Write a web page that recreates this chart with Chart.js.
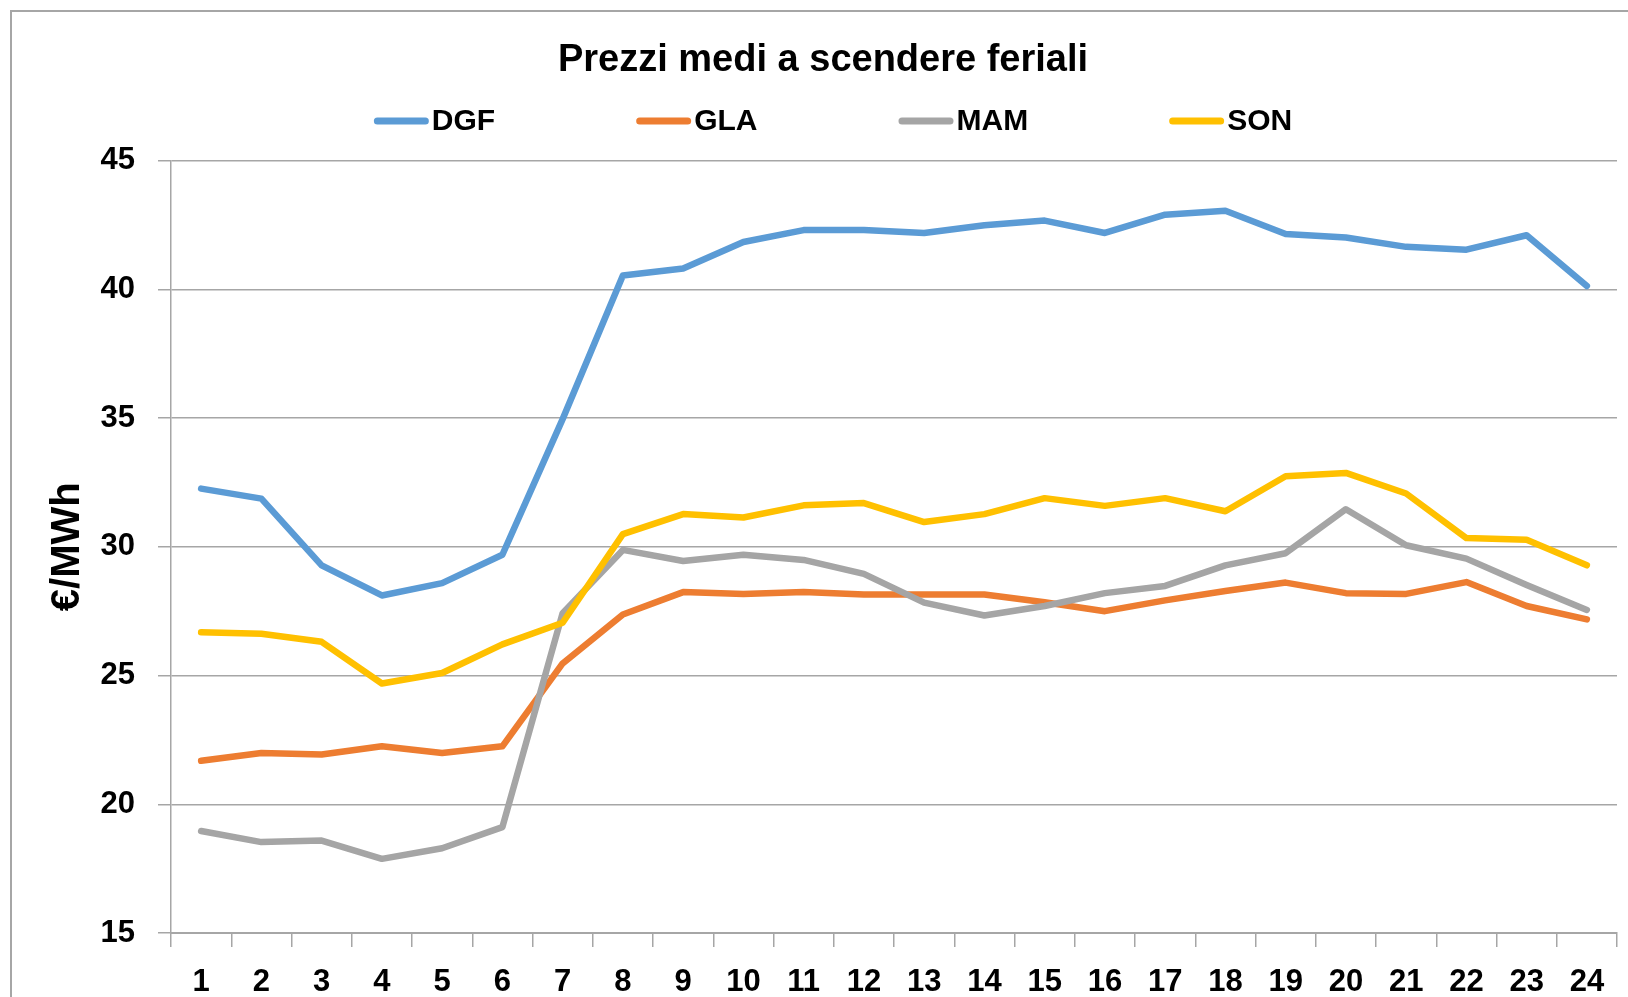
<!DOCTYPE html>
<html>
<head>
<meta charset="utf-8">
<script src="https://cdn.jsdelivr.net/npm/chart.js@4.4.1/dist/chart.umd.min.js"></script>
<style>
  html, body { margin: 0; padding: 0; background: #fff; overflow: hidden; }
  #wrap { position: relative; width: 1628px; height: 997px; overflow: hidden; }
  #chart { position: absolute; left: 0; top: 0; }
  #frame { position: absolute; left: 10px; top: 10px; width: 1700px; height: 1100px;
           border-left: 2px solid #a6a6a6; border-top: 2px solid #a6a6a6; pointer-events: none; }
</style>
</head>
<body>
<div id="wrap">
  <canvas id="chart" width="1646" height="997"></canvas>
  <div id="frame"></div>
</div>
<script>
// hours of the day
const hours = ["1","2","3","4","5","6","7","8","9","10","11","12",
               "13","14","15","16","17","18","19","20","21","22","23","24"];

const dgf = [32.26, 31.87, 29.28, 28.11, 28.59, 29.69, 34.96, 40.54, 40.81, 41.84, 42.30, 42.30,
             42.19, 42.49, 42.67, 42.19, 42.90, 43.05, 42.15, 42.01, 41.65, 41.54, 42.10, 40.13];
const gla = [21.69, 21.99, 21.93, 22.25, 21.99, 22.25, 25.47, 27.37, 28.24, 28.17, 28.24, 28.15,
             28.15, 28.15, 27.85, 27.50, 27.92, 28.28, 28.61, 28.20, 28.17, 28.63, 27.70, 27.18];
const mam = [18.96, 18.53, 18.59, 17.88, 18.29, 19.11, 27.42, 29.88, 29.45, 29.69, 29.49, 28.95,
             27.83, 27.33, 27.70, 28.20, 28.48, 29.28, 29.75, 31.46, 30.06, 29.54, 28.52, 27.55];
const son = [26.68, 26.62, 26.31, 24.69, 25.10, 26.21, 27.05, 30.49, 31.27, 31.14, 31.61, 31.70,
             30.96, 31.27, 31.89, 31.59, 31.89, 31.38, 32.74, 32.87, 32.07, 30.34, 30.27, 29.28];

const seriesNames = ["DGF", "GLA", "MAM", "SON"];
const seriesColors = ["#5B9BD5", "#ED7D31", "#A5A5A5", "#FFC000"];
const yTicks = { min: 15, max: 45, step: 5 };

const FONT = "'Liberation Sans', Arial, sans-serif";
const GRID = "#a6a6a6";

// excel style legend: short thick line right next to the label
const lineLegend = {
  id: "lineLegend",
  afterDraw(chart) {
    const ctx = chart.ctx;
    const sets = chart.data.datasets;
    const lineLen = 55, gap = 3, space = 141, cy = 121, center = 833;
    ctx.save();
    ctx.font = "bold 30px " + FONT;
    const widths = sets.map(d => ctx.measureText(d.label).width);
    let total = widths.reduce((s, w) => s + lineLen + gap + w, 0) + space * (sets.length - 1);
    let x = center - total / 2;
    sets.forEach((d, i) => {
      ctx.strokeStyle = d.borderColor;
      ctx.lineWidth = 7;
      ctx.lineCap = "round";
      ctx.beginPath();
      ctx.moveTo(x + 3.5, cy);
      ctx.lineTo(x + lineLen - 3.5, cy);
      ctx.stroke();
      ctx.fillStyle = "#000";
      ctx.textBaseline = "middle";
      ctx.textAlign = "left";
      ctx.fillText(d.label, x + lineLen + gap, cy + 1);
      x += lineLen + gap + widths[i] + space;
    });
    ctx.restore();
  }
};

const allSeries = [dgf, gla, mam, son];

new Chart(document.getElementById("chart"), {
  type: "line",
  data: {
    labels: hours,
    datasets: allSeries.map((vals, i) => ({
      label: seriesNames[i],
      data: vals,
      borderColor: seriesColors[i],
      backgroundColor: seriesColors[i],
      borderWidth: 6.5,
      borderCapStyle: "round",
      borderJoinStyle: "round",
      pointRadius: 0,
      tension: 0,
      order: allSeries.length - i
    }))
  },
  options: {
    responsive: false,
    animation: false,
    layout: { padding: 0 },
    plugins: {
      legend: { display: false },
      tooltip: { enabled: false },
      title: {
        display: true,
        text: "Prezzi medi a scendere feriali",
        color: "#000",
        font: { family: FONT, size: 38, weight: "bold", lineHeight: 1.2 },
        padding: { top: 38, bottom: 77 }
      }
    },
    scales: {
      x: {
        offset: true,
        grid: { offset: true, drawOnChartArea: false, drawTicks: true, tickLength: 14, color: GRID, lineWidth: 1.5 },
        border: { display: true, color: GRID, width: 2 },
        ticks: { color: "#000", padding: 17, maxRotation: 0, autoSkip: false,
                 font: { family: FONT, size: 31, weight: "bold" } },
        afterFit: s => { s.height = 64; }
      },
      y: {
        min: yTicks.min,
        max: yTicks.max,
        grid: { color: GRID, lineWidth: 1.5, tickLength: 13 },
        border: { display: true, color: GRID, width: 1.5 },
        ticks: { stepSize: yTicks.step, color: "#000", padding: 23,
                 font: { family: FONT, size: 31, weight: "bold" } },
        title: {
          display: true,
          text: "€/MWh",
          color: "#000",
          font: { family: FONT, size: 40, weight: "bold", lineHeight: 1.2 },
          padding: { top: 44, bottom: 0 }
        },
        afterFit: s => { s.width = 171; }
      },
      y2: {
        position: "right",
        grid: { display: false },
        border: { display: false },
        ticks: { display: false },
        afterFit: s => { s.width = 29; }
      }
    }
  },
  plugins: [lineLegend]
});
</script>
</body>
</html>
